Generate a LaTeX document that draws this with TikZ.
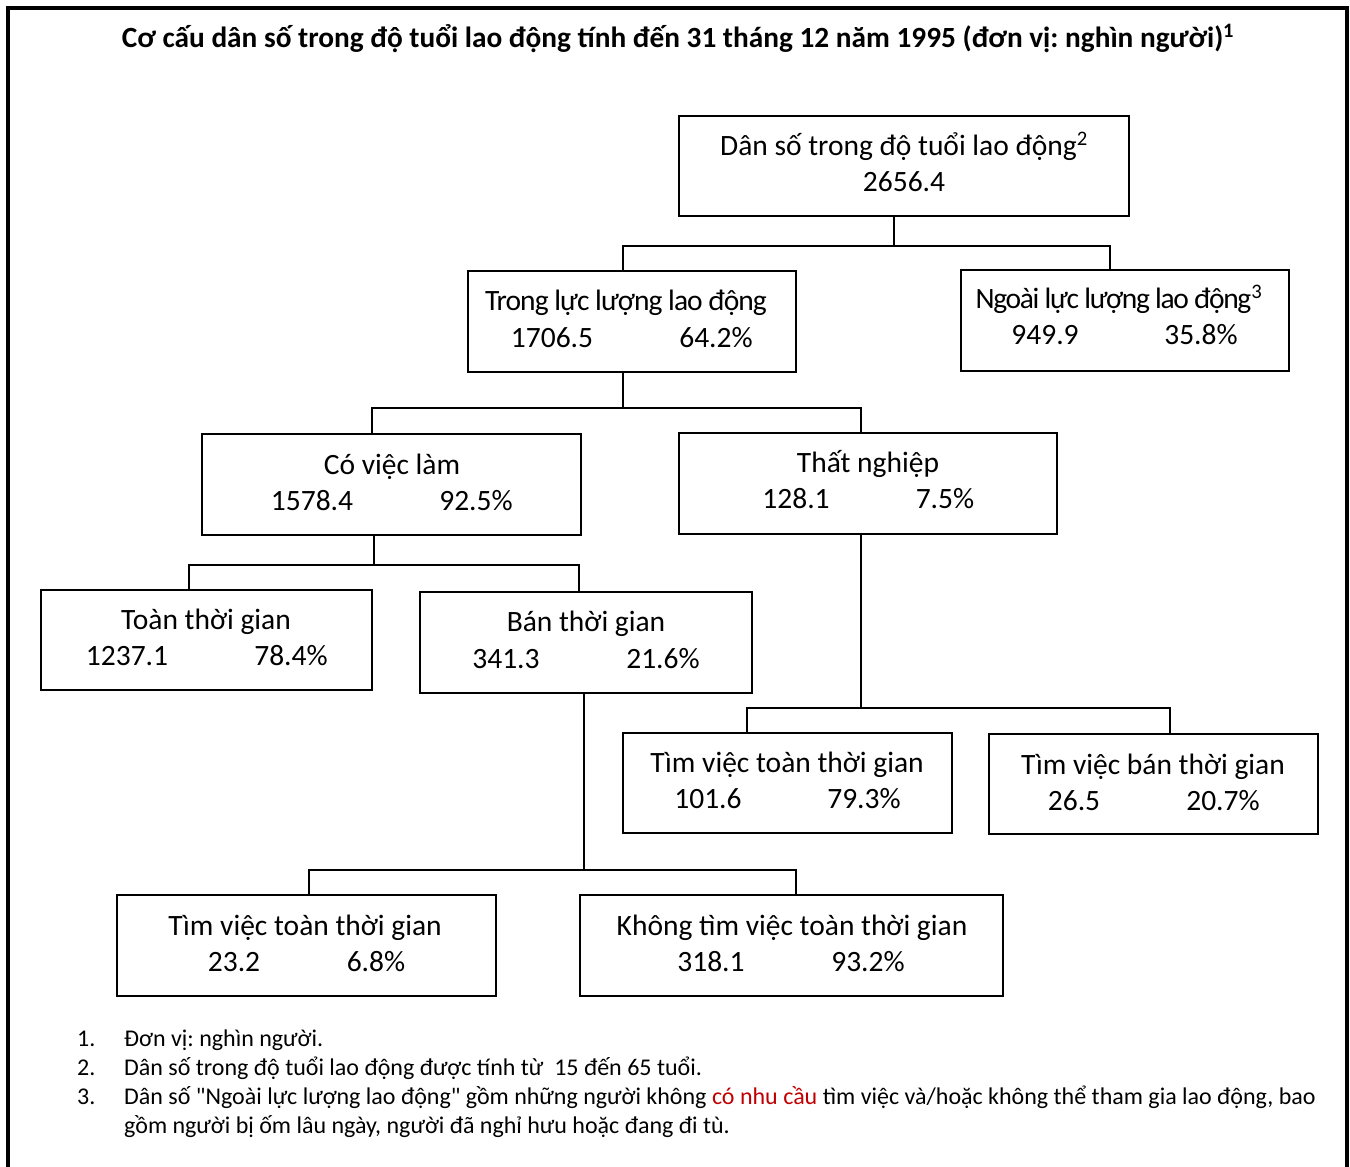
\documentclass[tikz,border=0pt]{standalone}
\usepackage{fontspec}
\setmainfont{Carlito}[Ligatures=TeXOff]
\usepackage{xcolor}
\usetikzlibrary{positioning}
\frenchspacing
\definecolor{notered}{RGB}{192,0,0}
\tikzset{
  box/.style={
    draw,
    line width=2pt,
    minimum width=328pt,
    minimum height=101pt,
    inner sep=0pt
  },
  boxtext/.style={
    anchor=base,
    inner sep=0pt,
    font=\fontsize{29.5}{36}\selectfont
  },
  tighttext/.style={
    boxtext,
    font=\fontsize{29.5}{36}\selectfont\addfontfeature{LetterSpace=-#1}
  },
  notetext/.style={
    anchor=base west,
    inner sep=0pt,
    font=\fontsize{24}{29}\selectfont
  },
  link/.style={
    draw,
    line width=2pt
  }
}

\begin{document}
\begin{tikzpicture}[x=1pt, y=-1pt]

  \useasboundingbox (0,0) rectangle (1350,1167);

  % Frame and title
  \draw[line width=4pt] (8,1175) -- (8,8) -- (1347,8) -- (1347,1175);
  \node[boxtext, font=\bfseries\fontsize{29.3}{34}\selectfont] (title) at (678,47)
    {Cơ cấu dân số trong độ tuổi lao động tính đến 31 tháng 12 năm 1995 (đơn vị: nghìn người)\textsuperscript{1}};

  % Boxes
  \node[box, minimum width=450pt, minimum height=100pt] (dan) at (904,166) {};
  \node[box] (trong) at (632,321.5) {};
  \node[box] (ngoai) at (1125,320.5) {};
  \node[box, minimum width=379pt] (covl) at (391.5,484.5) {};
  \node[box, minimum width=378pt] (thatn) at (868,483.5) {};
  \node[box, minimum width=331pt, minimum height=100pt] (toan) at (206.5,640) {};
  \node[box, minimum width=332pt] (ban) at (586,642.5) {};
  \node[box, minimum width=329pt, minimum height=100pt] (timtoan) at (787.5,783) {};
  \node[box, minimum width=329pt, minimum height=100pt] (timban) at (1153.5,784) {};
  \node[box, minimum width=379pt] (timtoanb) at (306.5,945.5) {};
  \node[box, minimum width=423pt] (khong) at (791.5,945.5) {};

  % Texts in the boxes
  \node[boxtext] (danT) at (904,155) {Dân số trong độ tuổi lao động\textsuperscript{2}};
  \node[boxtext] (danV) at (904,191) {2656.4};

  \node[tighttext=3.2] (trongT) at (626,310) {Trong lực lượng lao động};
  \node[boxtext] (trongN) at (552,347) {1706.5};
  \node[boxtext] (trongP) at (716,347) {64.2\%};

  \node[tighttext=4.6] (ngoaiT) at (1119,308) {Ngoài lực lượng lao động\textsuperscript{3}};
  \node[boxtext] (ngoaiN) at (1045,344) {949.9};
  \node[boxtext] (ngoaiP) at (1201,344) {35.8\%};

  \node[boxtext] (covlT) at (392,474) {Có việc làm};
  \node[boxtext] (covlN) at (312,510) {1578.4};
  \node[boxtext] (covlP) at (476,510) {92.5\%};

  \node[boxtext] (thatnT) at (868,472) {Thất nghiệp};
  \node[boxtext] (thatnN) at (796,508) {128.1};
  \node[boxtext] (thatnP) at (945,508) {7.5\%};

  \node[boxtext] (toanT) at (206,629) {Toàn thời gian};
  \node[boxtext] (toanN) at (127,665) {1237.1};
  \node[boxtext] (toanP) at (291,665) {78.4\%};

  \node[boxtext] (banT) at (586,631) {Bán thời gian};
  \node[boxtext] (banN) at (506,668) {341.3};
  \node[boxtext] (banP) at (663,668) {21.6\%};

  \node[boxtext] (timtoanT) at (787,772) {Tìm việc toàn thời gian};
  \node[boxtext] (timtoanN) at (708,808) {101.6};
  \node[boxtext] (timtoanP) at (864,808) {79.3\%};

  \node[boxtext] (timbanT) at (1153,774) {Tìm việc bán thời gian};
  \node[boxtext] (timbanN) at (1074,810) {26.5};
  \node[boxtext] (timbanP) at (1223,810) {20.7\%};

  \node[boxtext] (timtoanbT) at (305,935) {Tìm việc toàn thời gian};
  \node[boxtext] (timtoanbN) at (234,971) {23.2};
  \node[boxtext] (timtoanbP) at (376,971) {6.8\%};

  \node[boxtext] (khongT) at (792,935) {Không tìm việc toàn thời gian};
  \node[boxtext] (khongN) at (711,971) {318.1};
  \node[boxtext] (khongP) at (868,971) {93.2\%};

  % Connectors
  \draw[link] ([xshift=-10pt]dan.south) -- ++(0,29) -| ([xshift=-9pt]trong.north);
  \draw[link] ([xshift=-10pt]dan.south) -- ++(0,29) -| ([xshift=-15pt]ngoai.north);

  \draw[link] ([xshift=-9pt]trong.south) -- ++(0,35) -| ([xshift=-19.5pt]covl.north);
  \draw[link] ([xshift=-9pt]trong.south) -- ++(0,35) -| ([xshift=-7pt]thatn.north);

  \draw[link] ([xshift=-17.5pt]covl.south) -- ++(0,29) -| ([xshift=-17.5pt]toan.north);
  \draw[link] ([xshift=-17.5pt]covl.south) -- ++(0,29) -| ([xshift=-7pt]ban.north);

  \draw[link] ([xshift=-7pt]thatn.south) -- ++(0,173) -| ([xshift=-40.5pt]timtoan.north);
  \draw[link] ([xshift=-7pt]thatn.south) -- ++(0,173) -| ([xshift=16.5pt]timban.north);

  \draw[link] ([xshift=-2pt]ban.south) -- ++(0,176) -| ([xshift=2.5pt]timtoanb.north);
  \draw[link] ([xshift=-2pt]ban.south) -- ++(0,176) -| ([xshift=4.5pt]khong.north);

  % Notes
  \node[notetext] (n1) at (77,1046) {1.};
  \node[notetext] (n1T) at (124,1046) {Đơn vị: nghìn người.};
  \node[notetext] (n2) at (77,1075) {2.};
  \node[notetext] (n2T) at (124,1075) {Dân số trong độ tuổi lao động được tính từ \ 15 đến 65 tuổi.};
  \node[notetext] (n3) at (77,1104) {3.};
  \node[notetext] (n3T) at (124,1104) {Dân số "Ngoài lực lượng lao động" gồm những người không \textcolor{notered}{có nhu cầu} tìm việc và/hoặc không thể tham gia lao động, bao};
  \node[notetext] (n3U) at (124,1133) {gồm người bị ốm lâu ngày, người đã nghỉ hưu hoặc đang đi tù.};

\end{tikzpicture}
\end{document}
